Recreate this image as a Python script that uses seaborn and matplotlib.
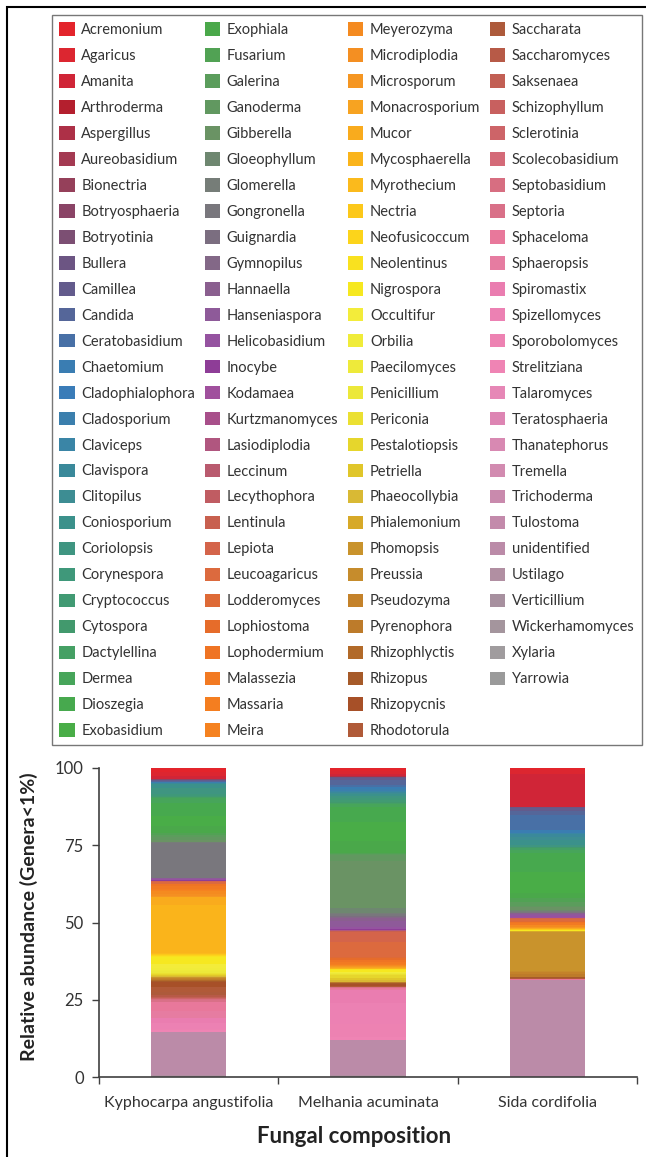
import pandas as pd
import seaborn as sns
import matplotlib.pyplot as plt
from matplotlib.patches import Patch, Rectangle

samples = ["Kyphocarpa angustifolia", "Melhania acuminata", "Sida cordifolia"]

genera = [
    "Acremonium", "Agaricus", "Amanita", "Arthroderma", "Aspergillus", "Aureobasidium",
    "Bionectria", "Botryosphaeria", "Botryotinia", "Bullera", "Camillea", "Candida",
    "Ceratobasidium", "Chaetomium", "Cladophialophora", "Cladosporium", "Claviceps",
    "Clavispora", "Clitopilus", "Coniosporium", "Coriolopsis", "Corynespora",
    "Cryptococcus", "Cytospora", "Dactylellina", "Dermea", "Dioszegia", "Exobasidium",
    "Exophiala", "Fusarium", "Galerina", "Ganoderma", "Gibberella", "Gloeophyllum",
    "Glomerella", "Gongronella", "Guignardia", "Gymnopilus", "Hannaella", "Hanseniaspora",
    "Helicobasidium", "Inocybe", "Kodamaea", "Kurtzmanomyces", "Lasiodiplodia", "Leccinum",
    "Lecythophora", "Lentinula", "Lepiota", "Leucoagaricus", "Lodderomyces", "Lophiostoma",
    "Lophodermium", "Malassezia", "Massaria", "Meira",
    "Meyerozyma", "Microdiplodia", "Microsporum", "Monacrosporium", "Mucor",
    "Mycosphaerella", "Myrothecium", "Nectria", "Neofusicoccum", "Neolentinus",
    "Nigrospora", "Occultifur", "Orbilia", "Paecilomyces", "Penicillium", "Periconia",
    "Pestalotiopsis", "Petriella", "Phaeocollybia", "Phialemonium", "Phomopsis",
    "Preussia", "Pseudozyma", "Pyrenophora", "Rhizophlyctis", "Rhizopus", "Rhizopycnis",
    "Rhodotorula",
    "Saccharata", "Saccharomyces", "Saksenaea", "Schizophyllum", "Sclerotinia",
    "Scolecobasidium", "Septobasidium", "Septoria", "Sphaceloma", "Sphaeropsis",
    "Spiromastix", "Spizellomyces", "Sporobolomyces", "Strelitziana", "Talaromyces",
    "Teratosphaeria", "Thanatephorus", "Tremella", "Trichoderma", "Tulostoma",
    "unidentified", "Ustilago", "Verticillium", "Wickerhamomyces", "Xylaria", "Yarrowia",
]

genus_colors = [
    "#e3242b", "#dc2630", "#d02537", "#b41f2e", "#ad3047", "#a43a52",
    "#95405a", "#8a4466", "#7c4f73", "#6c5583", "#635b8c", "#556699",
    "#4870a6", "#3a7db2", "#3a7cb8", "#3b7fad", "#3a85a6",
    "#3a899a", "#3d8d93", "#3b918b", "#3f9581", "#3f987a",
    "#419a73", "#42996d", "#45a064", "#47a55a", "#47a94e", "#49ad47",
    "#4aa84a", "#51a254", "#5b9d5c", "#619860", "#6a9364", "#6e8770",
    "#767d78", "#79777d", "#7b6e80", "#836887", "#8a5f8f", "#8e5a99",
    "#9553a0", "#8e3d97", "#a0509d", "#a84f8a", "#b0567f", "#b95a6e",
    "#c05c62", "#c8604f", "#d4644a", "#dc6a3e", "#de6a36", "#e66c2a",
    "#ef7424", "#f27a22", "#f47e20", "#f58220",
    "#f48a20", "#f48f22", "#f59622", "#f7a321", "#f9ab1d",
    "#fab41b", "#fbba1c", "#fcc81a", "#fcd41b", "#f9e11f",
    "#f6e820", "#f3ec3a", "#f0ec3a", "#eeea3a", "#ece83a", "#ebe032",
    "#e6d62c", "#e0c62a", "#d9b934", "#d7a928", "#c9932c",
    "#c68c2c", "#c4822a", "#bd7b2a", "#b26a29", "#a65a29", "#a75028",
    "#b05a38",
    "#ad5a3b", "#b75a47", "#c25f54", "#c8605f", "#cd6468",
    "#d46a78", "#d76e81", "#d97088", "#e8789b", "#e67ca1",
    "#ea7db0", "#ec81b3", "#ed82b2", "#ef84b4", "#e687b6",
    "#dd85b3", "#d889b2", "#d28bb0", "#c98aad", "#c38aab",
    "#bb8ba8", "#b18fa2", "#a7909f", "#a4959d", "#a09c9e", "#9a9a9a",
]

# relative abundance (%) per genus, genera not listed are 0
kyphocarpa = {
    "Acremonium": 1.3, "Agaricus": 1.3, "Amanita": 1.0, "Botryosphaeria": 0.2,
    "Camillea": 0.3, "Candida": 0.4, "Cladosporium": 0.3, "Clavispora": 0.3,
    "Coniosporium": 1.5, "Coriolopsis": 1.8, "Corynespora": 0.5, "Cryptococcus": 0.5,
    "Dactylellina": 0.4, "Dermea": 1.6, "Dioszegia": 4.0, "Exobasidium": 3.5,
    "Exophiala": 2.1, "Fusarium": 0.6, "Galerina": 0.8, "Ganoderma": 0.9,
    "Gibberella": 0.6, "Glomerella": 0.5, "Gongronella": 11.2, "Hanseniaspora": 0.2,
    "Helicobasidium": 0.3, "Inocybe": 0.5, "Lepiota": 0.4, "Leucoagaricus": 0.4,
    "Lodderomyces": 0.3, "Lophodermium": 0.5, "Malassezia": 0.8, "Massaria": 0.5,
    "Meira": 0.4, "Meyerozyma": 0.8, "Microdiplodia": 0.6, "Microsporum": 0.4,
    "Mucor": 2.5, "Mycosphaerella": 15.7, "Myrothecium": 0.3, "Nectria": 0.3,
    "Neofusicoccum": 0.3, "Neolentinus": 0.5, "Nigrospora": 2.0, "Occultifur": 1.5,
    "Orbilia": 0.5, "Paecilomyces": 0.5, "Penicillium": 0.5, "Periconia": 0.3,
    "Pestalotiopsis": 0.4, "Petriella": 0.3, "Phaeocollybia": 0.2, "Phialemonium": 0.2,
    "Phomopsis": 0.3, "Pseudozyma": 0.2, "Pyrenophora": 0.3, "Rhizophlyctis": 0.3,
    "Rhizopus": 0.5, "Rhizopycnis": 1.5, "Rhodotorula": 1.8, "Saccharata": 1.0,
    "Saccharomyces": 0.4, "Saksenaea": 0.4, "Sclerotinia": 0.2, "Scolecobasidium": 0.3,
    "Septobasidium": 0.3, "Septoria": 0.5, "Sphaceloma": 3.0, "Sphaeropsis": 2.2,
    "Spiromastix": 1.5, "Spizellomyces": 2.0, "Sporobolomyces": 0.5, "Strelitziana": 0.5,
    "unidentified": 14.0, "Ustilago": 0.3, "Verticillium": 0.3,
}

melhania = {
    "Acremonium": 1.0, "Agaricus": 1.0, "Amanita": 0.5, "Arthroderma": 0.2,
    "Aspergillus": 0.2, "Bullera": 0.3, "Camillea": 0.8, "Candida": 1.4,
    "Ceratobasidium": 0.7, "Chaetomium": 0.6, "Cladosporium": 0.6, "Claviceps": 0.4,
    "Clavispora": 0.4, "Clitopilus": 0.4, "Coniosporium": 0.6, "Coriolopsis": 0.6,
    "Corynespora": 0.7, "Cryptococcus": 0.6, "Cytospora": 0.3, "Dactylellina": 0.4,
    "Dermea": 0.8, "Dioszegia": 5.0, "Exobasidium": 6.0, "Exophiala": 4.0,
    "Fusarium": 0.3, "Galerina": 0.3, "Ganoderma": 2.0, "Gibberella": 15.2,
    "Gloeophyllum": 1.5, "Glomerella": 0.6, "Gongronella": 0.5, "Guignardia": 0.2,
    "Gymnopilus": 0.3, "Hannaella": 1.0, "Hanseniaspora": 2.0, "Helicobasidium": 0.6,
    "Inocybe": 0.4, "Lasiodiplodia": 0.2, "Lecythophora": 0.2, "Lentinula": 0.4,
    "Lepiota": 3.0, "Leucoagaricus": 5.0, "Lodderomyces": 0.3, "Lophiostoma": 0.6,
    "Lophodermium": 0.8, "Malassezia": 0.4, "Massaria": 0.3, "Meira": 0.2,
    "Meyerozyma": 0.2, "Microdiplodia": 0.2, "Microsporum": 0.2, "Monacrosporium": 0.2,
    "Mucor": 0.2, "Mycosphaerella": 0.2, "Neolentinus": 0.4, "Nigrospora": 0.6,
    "Occultifur": 0.3, "Penicillium": 0.3, "Periconia": 0.4, "Pestalotiopsis": 0.8,
    "Petriella": 0.8, "Phaeocollybia": 0.7, "Pyrenophora": 0.2, "Rhizopus": 0.4,
    "Rhizopycnis": 0.6, "Rhodotorula": 0.4, "Septoria": 0.3, "Sphaceloma": 0.3,
    "Sphaeropsis": 0.5, "Spiromastix": 4.0, "Spizellomyces": 7.0, "Sporobolomyces": 4.0,
    "Strelitziana": 1.0, "unidentified": 11.2, "Ustilago": 0.4, "Verticillium": 0.4,
}

sida = {
    "Acremonium": 0.5, "Agaricus": 1.5, "Amanita": 10.6, "Bullera": 0.3,
    "Camillea": 1.0, "Candida": 1.3, "Ceratobasidium": 5.0, "Chaetomium": 0.8,
    "Claviceps": 0.4, "Clavispora": 0.8, "Clitopilus": 1.2, "Coniosporium": 1.5,
    "Coriolopsis": 0.7, "Cytospora": 0.3, "Dactylellina": 0.6, "Dermea": 1.0,
    "Dioszegia": 6.0, "Exobasidium": 7.0, "Exophiala": 1.5, "Fusarium": 1.5,
    "Galerina": 1.0, "Ganoderma": 0.5, "Gibberella": 0.8, "Gloeophyllum": 0.4,
    "Glomerella": 0.4, "Gongronella": 0.3, "Hannaella": 0.3, "Hanseniaspora": 0.5,
    "Helicobasidium": 0.4, "Inocybe": 0.2, "Kodamaea": 0.2, "Lepiota": 0.5,
    "Leucoagaricus": 0.5, "Lodderomyces": 0.3, "Lophodermium": 0.5, "Malassezia": 0.5,
    "Meyerozyma": 0.5, "Microsporum": 0.5, "Mucor": 0.3, "Nectria": 0.3,
    "Nigrospora": 0.4, "Phialemonium": 0.4, "Phomopsis": 12.4, "Preussia": 0.4,
    "Pseudozyma": 0.8, "Pyrenophora": 0.8, "Rhizopus": 0.3, "Rhodotorula": 0.3,
    "Saksenaea": 0.2, "Sphaceloma": 0.2, "unidentified": 31.4,
}

rows = []
for sample, values in zip(samples, [kyphocarpa, melhania, sida]):
    for g in genera:
        rows.append((sample, g, values.get(g, 0.0)))
df = pd.DataFrame(rows, columns=["Sample", "Genus", "Abundance"])

sns.set_style("ticks")
plt.rcParams["font.family"] = ["Lato", "DejaVu Sans"]

fig = plt.figure(figsize=(6.46, 11.57), dpi=100)
ax = fig.add_axes([99 / 646, 1 - 1077 / 1157, 538 / 646, 309 / 1157])

# stacked bars, first genus on top
sns.histplot(
    data=df, x="Sample", weights="Abundance", hue="Genus",
    hue_order=genera, palette=genus_colors, multiple="stack",
    discrete=True, shrink=0.42, alpha=1, linewidth=0, legend=False, ax=ax,
)

ax.set_xlim(-0.5, 2.5)
ax.set_ylim(0, 100)
ax.set_yticks([0, 25, 50, 75, 100])
ax.set_xticks([-0.5, 0.5, 1.5, 2.5])
ax.set_xticklabels([])
ax.set_xticks([0, 1, 2], minor=True)
ax.set_xticklabels(samples, minor=True)
ax.tick_params(axis="x", which="minor", length=0, pad=14, labelsize=11.5, labelcolor="#333333")
ax.tick_params(axis="x", which="major", length=5, width=1, color="#404040")
ax.tick_params(axis="y", length=5, width=1, color="#404040", labelsize=12,
               labelcolor="#333333", pad=6)
sns.despine(ax=ax)
for side in ["left", "bottom"]:
    ax.spines[side].set_color("#404040")
    ax.spines[side].set_linewidth(1.2)

ax.set_ylabel("Relative abundance (Genera<1%)", fontsize=14, fontweight="bold", color="#222222")
ax.yaxis.set_label_coords(-0.113, 0.52)
ax.set_xlabel("Fungal composition", fontsize=16, fontweight="bold", color="#222222")
ax.xaxis.set_label_coords((354 - 99) / 538, -(1126 - 1077) / 309)

# pad the last legend column so the columns hold 28/28/28/27 entries
handles = [Patch(facecolor=c, edgecolor="none") for c in genus_colors]
handles.append(Patch(facecolor="none", edgecolor="none"))
labels = genera + [""]
leg = fig.legend(
    handles, labels, ncol=4, loc="upper left",
    bbox_to_anchor=(52 / 646, 1 - 748 / 1157, 590 / 646, 733 / 1157),
    mode="expand", frameon=True, fancybox=False, edgecolor="#555555",
    fontsize=10.5, handlelength=1.05, handleheight=1.05, handletextpad=0.45,
    labelspacing=0.77, borderpad=0.5, borderaxespad=0, columnspacing=0.5,
    labelcolor="#333333",
)
leg.get_frame().set_linewidth(1.0)

fig.add_artist(Rectangle((7 / 646, -0.05), 1.2, 1.05 - 7 / 1157,
                         transform=fig.transFigure, fill=False,
                         edgecolor="black", linewidth=1.5, clip_on=False))

plt.savefig("out.png", dpi=100)
